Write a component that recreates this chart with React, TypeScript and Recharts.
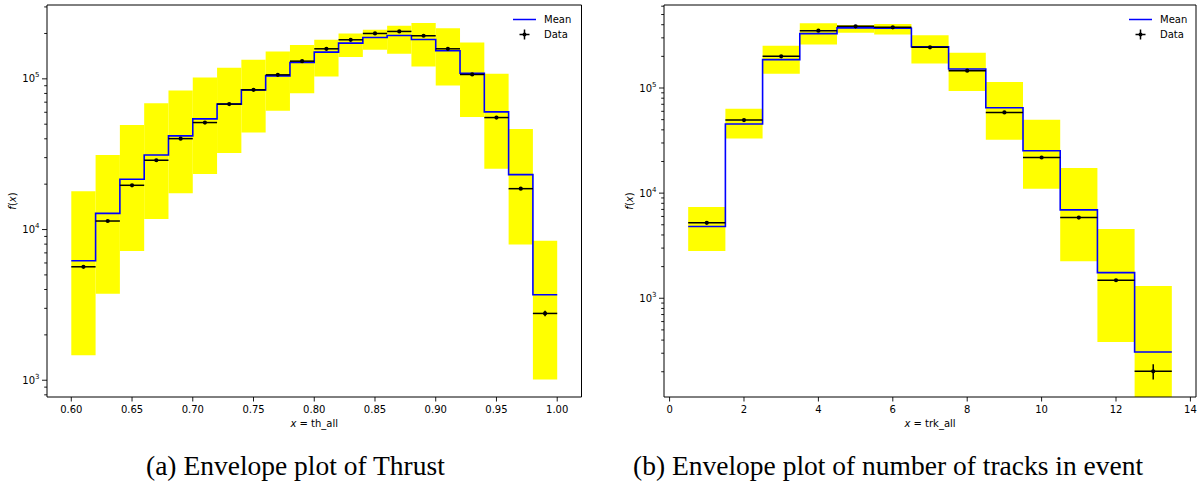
import React from "react";
import {
  ComposedChart,
  Line,
  Scatter,
  XAxis,
  YAxis,
  ReferenceArea,
  ErrorBar,
  Legend,
} from "recharts";

// ---- (a) thrust: bins of 0.02 from 0.60 to 1.00 ----
const thrustEdges = [
  0.6, 0.62, 0.64, 0.66, 0.68, 0.7, 0.72, 0.74, 0.76, 0.78, 0.8, 0.82, 0.84,
  0.86, 0.88, 0.9, 0.92, 0.94, 0.96, 0.98, 1.0,
];
const thrustMean = [
  6210, 12810, 21550, 31250, 41800, 54230, 67920, 84500, 104700, 128300,
  150400, 172600, 188200, 194000, 182500, 153500, 109000, 60330, 23130, 3690,
];
const thrustData = [
  5660, 11390, 19660, 28830, 40100, 51280, 68000, 84500, 106300, 131000,
  158200, 181600, 200000, 206300, 193100, 158200, 106900, 55340, 18670, 2775,
];
const thrustDataErr = [
  100, 140, 190, 230, 270, 310, 350, 390, 440, 490, 540, 580, 610, 620, 600,
  540, 440, 320, 180, 115,
];
const thrustLow = [
  1466, 3745, 7200, 11740, 17400, 23380, 32240, 44000, 61300, 80300, 103600,
  139400, 155800, 146600, 120800, 90300, 55900, 25350, 7970, 1010,
];
const thrustHigh = [
  17950, 31250, 49450, 68950, 83600, 102000, 118300, 133700, 151800, 167400,
  181600, 200000, 211600, 224900, 234400, 217000, 174300, 107900, 46540, 8430,
];
const thrustXTicks = [0.6, 0.65, 0.7, 0.75, 0.8, 0.85, 0.9, 0.95, 1.0];
const thrustYTicks = [
  800, 900, 1000, 2000, 3000, 4000, 5000, 6000, 7000, 8000, 9000, 10000, 20000,
  30000, 40000, 50000, 60000, 70000, 80000, 90000, 100000, 200000, 300000,
];

// ---- (b) number of tracks: unit bins centred on 1..13 ----
const trkEdges = [0.5, 1.5, 2.5, 3.5, 4.5, 5.5, 6.5, 7.5, 8.5, 9.5, 10.5, 11.5, 12.5, 13.5];
const trkMean = [
  4808, 45400, 186000, 329000, 373000, 370000, 247000, 151700, 64900, 25300,
  6934, 1754, 308,
];
const trkData = [
  5213, 49500, 200000, 351000, 386000, 378000, 244000, 146200, 58600, 21830,
  5860, 1483, 202,
];
const trkDataErr = [90, 300, 600, 800, 850, 840, 670, 520, 330, 200, 100, 45, 33];
const trkLow = [
  2822, 33100, 136800, 260000, 336000, 322000, 171500, 93600, 32200, 10990,
  2250, 384, 100,
];
const trkHigh = [
  7360, 63500, 252800, 412000, 398000, 407000, 317000, 216800, 114000, 49900,
  17300, 4570, 1310,
];
const trkXTicks = [0, 2, 4, 6, 8, 10, 12, 14];
const trkYTicks = [
  200, 300, 400, 500, 600, 700, 800, 900, 1000, 2000, 3000, 4000, 5000, 6000,
  7000, 8000, 9000, 10000, 20000, 30000, 40000, 50000, 60000, 70000, 80000,
  90000, 100000, 200000, 300000, 400000, 500000, 600000,
];

const FONT = "DejaVu Sans";

const LogTick = (p: any) => {
  const v = p.payload.value;
  const e = Math.log10(v);
  const major = Math.abs(e - Math.round(e)) < 1e-6;
  return (
    <g>
      <line x1={p.x} x2={p.x - (major ? 5 : 2.8)} y1={p.y} y2={p.y} stroke="#000" strokeWidth={0.9} />
      {major && (
        <text x={p.x - 7.5} y={p.y + 3.6} textAnchor="end" fontFamily={FONT} fontSize={10} fill="#000">
          10
          <tspan dy={-5} fontSize={7}>
            {Math.round(e)}
          </tspan>
        </text>
      )}
    </g>
  );
};

const makeXTick = (fmt: (v: number) => string) => (p: any) => (
  <g>
    <line x1={p.x} x2={p.x} y1={p.y} y2={p.y + 4.5} stroke="#000" strokeWidth={0.9} />
    <text x={p.x} y={p.y + 15.5} textAnchor="middle" fontFamily={FONT} fontSize={10} fill="#000">
      {fmt(p.payload.value)}
    </text>
  </g>
);

const XLabel = ({ viewBox, name }: any) => (
  <text
    x={viewBox.x + viewBox.width / 2}
    y={viewBox.y + 29.5}
    textAnchor="middle"
    fontFamily={FONT}
    fontSize={10}
    fill="#000"
  >
    <tspan fontStyle="italic">x</tspan>
    <tspan> =  {name}</tspan>
  </text>
);

const YLabel = ({ viewBox }: any) => {
  const cx = viewBox.x + viewBox.width - 35;
  const cy = viewBox.y + viewBox.height / 2;
  return (
    <text
      x={cx}
      y={cy}
      transform={`rotate(-90 ${cx} ${cy})`}
      textAnchor="middle"
      dominantBaseline="central"
      fontFamily={FONT}
      fontSize={10}
      fill="#000"
    >
      <tspan fontStyle="italic">f</tspan>(<tspan fontStyle="italic">x</tspan>)
    </text>
  );
};

const LegendBox = () => (
  <div style={{ fontFamily: FONT, fontSize: 10, color: "#000", lineHeight: "15px" }}>
    <div style={{ display: "flex", alignItems: "center", height: 15 }}>
      <svg width={23} height={15}>
        <line x1={0} x2={23} y1={7.5} y2={7.5} stroke="#0000ff" strokeWidth={1.5} />
      </svg>
      <span style={{ marginLeft: 8 }}>Mean</span>
    </div>
    <div style={{ display: "flex", alignItems: "center", height: 15 }}>
      <svg width={23} height={15}>
        <line x1={6.5} x2={16.5} y1={7.5} y2={7.5} stroke="#000" strokeWidth={1.5} />
        <line x1={11.5} x2={11.5} y1={2.5} y2={12.5} stroke="#000" strokeWidth={1.5} />
        <circle cx={11.5} cy={7.5} r={2} fill="#000" />
      </svg>
      <span style={{ marginLeft: 8 }}>Data</span>
    </div>
  </div>
);

const Dot = (p: any) => <circle cx={p.cx} cy={p.cy} r={2.1} fill="#000" />;

type PanelProps = {
  edges: number[];
  mean: number[];
  data: number[];
  dataErr: number[];
  low: number[];
  high: number[];
  xTicks: number[];
  yTicks: number[];
  xDomain: [number, number];
  yDomain: [number, number];
  fmt: (v: number) => string;
  name: string;
  width: number;
  yAxisWidth: number;
  right: number;
  legendLeft: number;
};

function EnvelopePanel(props: PanelProps) {
  const { edges, mean, data, dataErr, low, high, xDomain, yDomain } = props;
  const steps = edges.map((x, i) => ({ x, mean: mean[Math.min(i, mean.length - 1)] }));
  const points = data.map((y, i) => ({
    x: (edges[i] + edges[i + 1]) / 2,
    y,
    xe: (edges[i + 1] - edges[i]) / 2,
    ye: dataErr[i],
  }));

  return (
    <ComposedChart
      width={props.width}
      height={430}
      margin={{ top: 5, right: props.right, bottom: 3, left: 0 }}
    >
      <XAxis
        dataKey="x"
        type="number"
        domain={xDomain}
        allowDataOverflow
        ticks={props.xTicks}
        interval={0}
        tickSize={0}
        tickMargin={0}
        axisLine={false}
        tickLine={false}
        height={30}
        tick={makeXTick(props.fmt)}
        label={<XLabel name={props.name} />}
      />
      <YAxis
        type="number"
        scale="log"
        domain={yDomain}
        allowDataOverflow
        ticks={props.yTicks}
        interval={0}
        tickSize={0}
        tickMargin={0}
        axisLine={false}
        tickLine={false}
        width={props.yAxisWidth}
        tick={(p: any) => <LogTick {...p} />}
        label={<YLabel />}
      />
      {low.map((lo, i) => (
        <ReferenceArea
          key={i}
          x1={edges[i]}
          x2={edges[i + 1]}
          y1={lo}
          y2={high[i]}
          fill="#ffff00"
          fillOpacity={1}
          stroke="none"
          ifOverflow="hidden"
        />
      ))}
      <Line
        data={steps}
        dataKey="mean"
        type="stepAfter"
        stroke="#0000ff"
        strokeWidth={1.6}
        dot={false}
        activeDot={false}
        isAnimationActive={false}
      />
      <Scatter data={points} dataKey="y" shape={Dot} isAnimationActive={false}>
        <ErrorBar dataKey="xe" direction="x" width={0} stroke="#000" strokeWidth={1.5} isAnimationActive={false} />
        <ErrorBar dataKey="ye" direction="y" width={0} stroke="#000" strokeWidth={1.5} isAnimationActive={false} />
      </Scatter>
      <ReferenceArea
        x1={xDomain[0]}
        x2={xDomain[1]}
        y1={yDomain[0]}
        y2={yDomain[1]}
        fill="none"
        stroke="#000"
        strokeWidth={1}
        ifOverflow="visible"
      />
      <Legend
        layout="horizontal"
        verticalAlign="middle"
        align="center"
        wrapperStyle={{ left: props.legendLeft, top: 12, width: "auto" }}
        content={<LegendBox />}
      />
    </ComposedChart>
  );
}

export default function App() {
  return (
    <div style={{ position: "absolute", left: 0, top: 0, width: 1198, height: 485, background: "#fff" }}>
      <div style={{ position: "absolute", left: 0, top: 0 }}>
        <EnvelopePanel
          edges={thrustEdges}
          mean={thrustMean}
          data={thrustData}
          dataErr={thrustDataErr}
          low={thrustLow}
          high={thrustHigh}
          xTicks={thrustXTicks}
          yTicks={thrustYTicks}
          xDomain={[0.58, 1.02]}
          yDomain={[774, 309000]}
          fmt={(v) => v.toFixed(2)}
          name="th_all"
          width={600}
          yAxisWidth={47}
          right={18.5}
          legendLeft={513}
        />
      </div>
      <div style={{ position: "absolute", left: 600, top: 0 }}>
        <EnvelopePanel
          edges={trkEdges}
          mean={trkMean}
          data={trkData}
          dataErr={trkDataErr}
          low={trkLow}
          high={trkHigh}
          xTicks={trkXTicks}
          yTicks={trkYTicks}
          xDomain={[-0.15, 14.15]}
          yDomain={[115, 616000]}
          fmt={(v) => String(v)}
          name="trk_all"
          width={598}
          yAxisWidth={64}
          right={2}
          legendLeft={529}
        />
      </div>
      <svg
        width={1198}
        height={485}
        style={{ position: "absolute", left: 0, top: 0, pointerEvents: "none" }}
      >
        <text x={146} y={475} fontFamily="Liberation Serif" fontSize={27.5} fill="#000">
          (a) Envelope plot of Thrust
        </text>
        <text x={633} y={475} fontFamily="Liberation Serif" fontSize={27.5} fill="#000">
          (b) Envelope plot of number of tracks in event
        </text>
      </svg>
    </div>
  );
}
